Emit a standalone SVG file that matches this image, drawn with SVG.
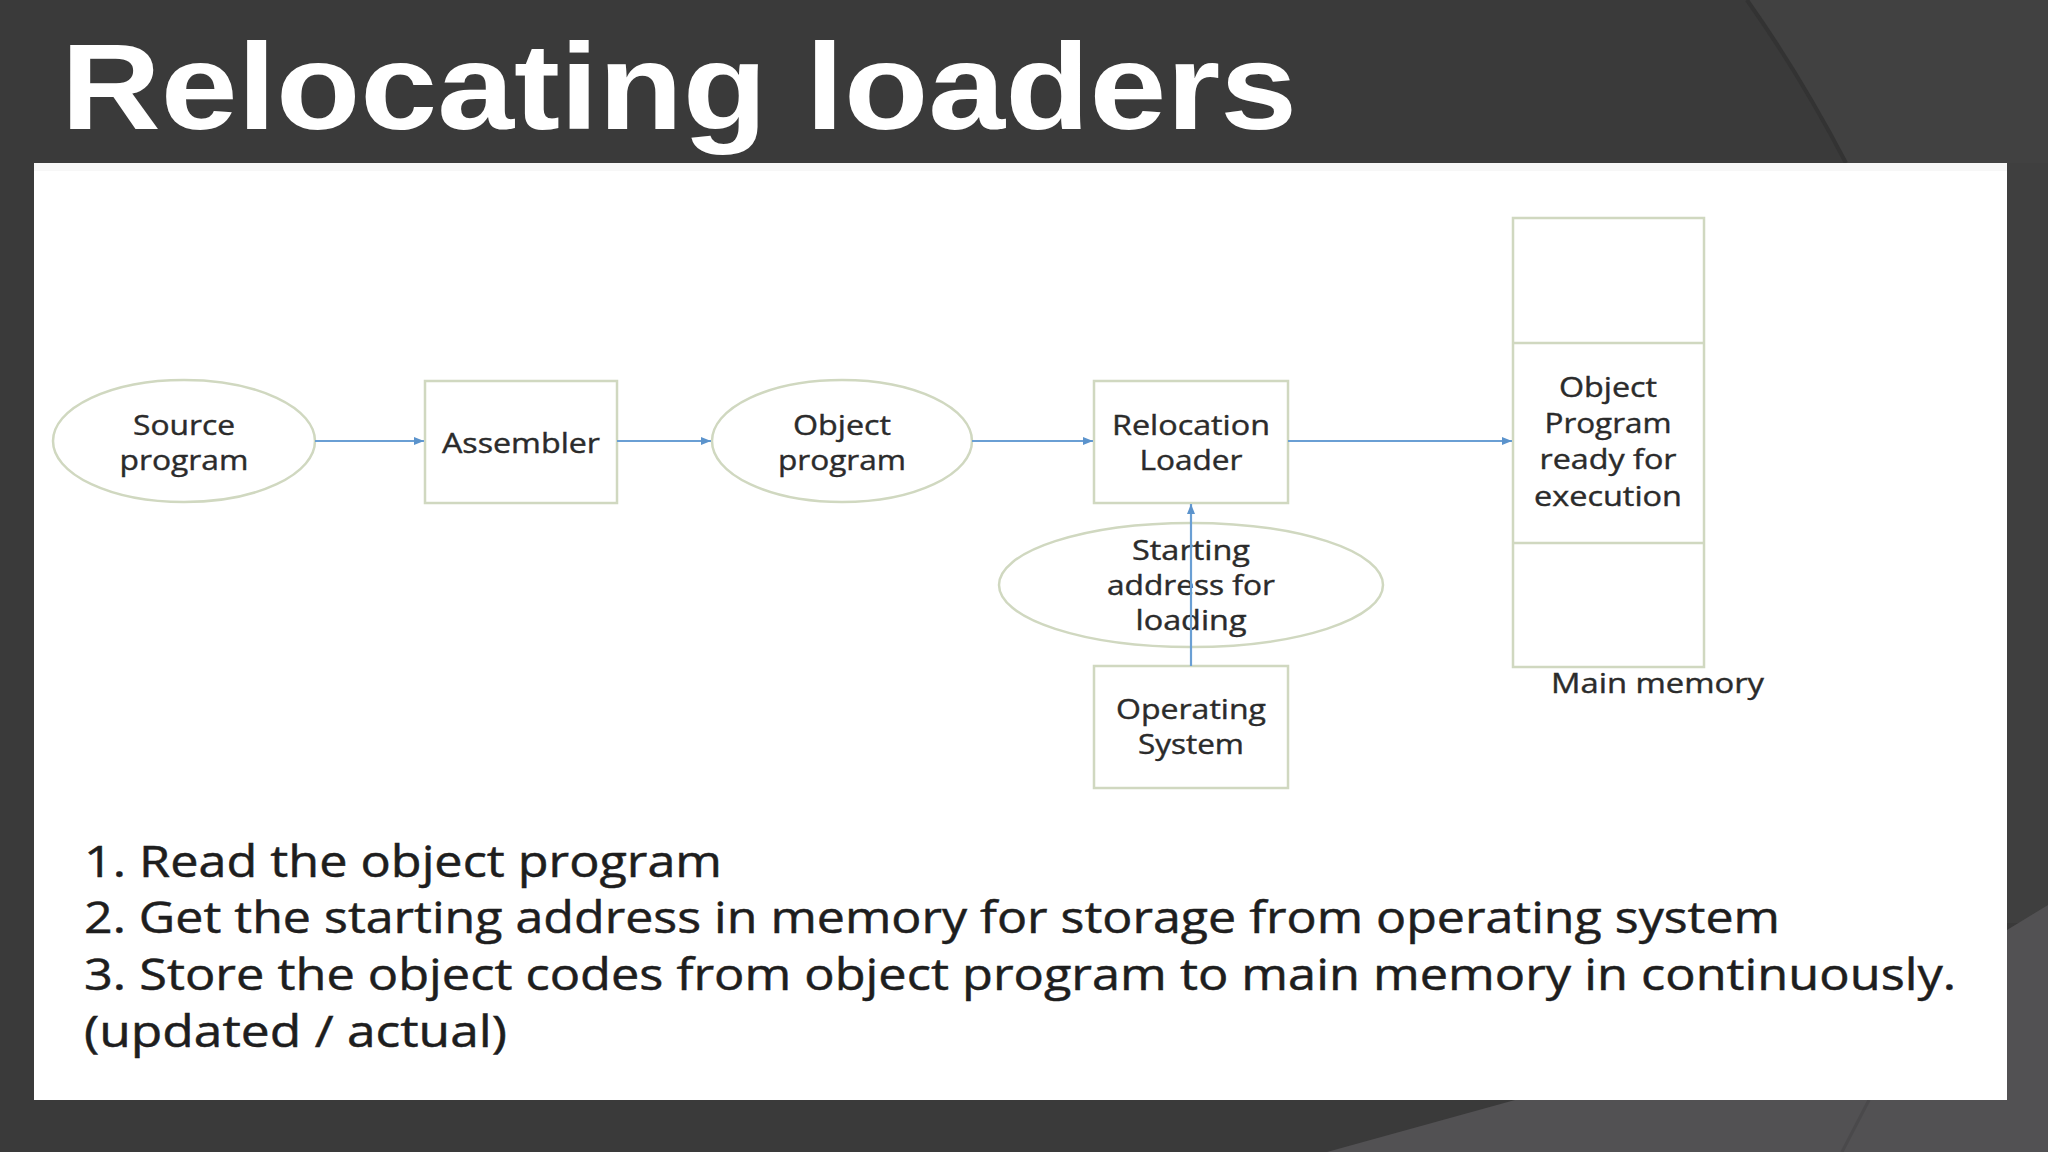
<svg xmlns="http://www.w3.org/2000/svg" width="2048" height="1152" viewBox="0 0 2048 1152">
  <style>
    .node { fill: #ffffff; stroke: #d0d8c0; stroke-width: 2.5; }
    .lbl { font-family: "Open Sans", "Liberation Sans", sans-serif; font-size: 27px; fill: #2b2b2b; stroke: #2b2b2b; stroke-width: 0.4; text-anchor: middle; }
    .conn { fill: none; stroke: #6a9fd4; stroke-width: 2.2; }
    .body { font-family: "Open Sans", "Liberation Sans", sans-serif; font-size: 44px; fill: #1e1e1e; stroke: #1e1e1e; stroke-width: 0.5; }
  </style>
  <defs>
    <marker id="arr" markerUnits="userSpaceOnUse" markerWidth="12" markerHeight="10" refX="10" refY="5" orient="auto">
      <path d="M0,1 L10,5 L0,9 Z" fill="#5b93cc"/>
    </marker>
  </defs>

  <g id="background">
    <rect x="0" y="0" width="2048" height="1152" fill="#3a3a3a"/>
    <path d="M1747,0 Q1800,75 1846,163 L2048,163 L2048,0 Z" fill="#414141"/>
    <path d="M1747,0 Q1800,75 1846,163" fill="none" stroke="#333333" stroke-width="4"/>
    <rect x="2007" y="163" width="41" height="760" fill="#3f3f3f"/>
    <path d="M1515,1100 L1327,1152 L2048,1152 L2048,905 L2007,930 L2007,1100 Z" fill="#525153"/>
    <path d="M1869,1100 L1842,1152" fill="none" stroke="#4a494b" stroke-width="3"/>
    <rect x="34" y="163" width="1973" height="937" fill="#ffffff"/>
    <rect x="34" y="163" width="1973" height="8" fill="#f7f7f7"/>
  </g>

  <g id="title">
    <text x="61" y="129" font-family="Liberation Sans, Arial, sans-serif" font-weight="bold" font-size="123" fill="#ffffff" textLength="1236" lengthAdjust="spacingAndGlyphs">Relocating loaders</text>
  </g>

  <g id="source-program">
    <ellipse class="node" cx="184" cy="441" rx="131" ry="61"/>
    <text class="lbl" x="184" y="435" textLength="102" lengthAdjust="spacingAndGlyphs">Source</text>
    <text class="lbl" x="184" y="470" textLength="129" lengthAdjust="spacingAndGlyphs">program</text>
  </g>

  <g id="assembler">
    <rect class="node" x="425" y="381" width="192" height="122"/>
    <text class="lbl" x="521" y="453" textLength="158" lengthAdjust="spacingAndGlyphs">Assembler</text>
  </g>

  <g id="object-program">
    <ellipse class="node" cx="842" cy="441" rx="130" ry="61"/>
    <text class="lbl" x="842" y="435" textLength="98" lengthAdjust="spacingAndGlyphs">Object</text>
    <text class="lbl" x="842" y="470" textLength="128" lengthAdjust="spacingAndGlyphs">program</text>
  </g>

  <g id="relocation-loader">
    <rect class="node" x="1094" y="381" width="194" height="122"/>
    <text class="lbl" x="1191" y="435" textLength="158" lengthAdjust="spacingAndGlyphs">Relocation</text>
    <text class="lbl" x="1191" y="470" textLength="103" lengthAdjust="spacingAndGlyphs">Loader</text>
  </g>

  <g id="starting-address">
    <ellipse class="node" cx="1191" cy="585" rx="192" ry="62"/>
    <text class="lbl" x="1191" y="560" textLength="118" lengthAdjust="spacingAndGlyphs">Starting</text>
    <text class="lbl" x="1191" y="595" textLength="168" lengthAdjust="spacingAndGlyphs">address for</text>
    <text class="lbl" x="1191" y="630" textLength="111" lengthAdjust="spacingAndGlyphs">loading</text>
  </g>

  <g id="operating-system">
    <rect class="node" x="1094" y="666" width="194" height="122"/>
    <text class="lbl" x="1191" y="719" textLength="150" lengthAdjust="spacingAndGlyphs">Operating</text>
    <text class="lbl" x="1191" y="754" textLength="106" lengthAdjust="spacingAndGlyphs">System</text>
  </g>

  <g id="main-memory">
    <rect class="node" x="1513" y="218" width="191" height="449"/>
    <line x1="1513" y1="343" x2="1704" y2="343" stroke="#d0d8c0" stroke-width="2.5"/>
    <line x1="1513" y1="543" x2="1704" y2="543" stroke="#d0d8c0" stroke-width="2.5"/>
    <text class="lbl" x="1608" y="397" textLength="98" lengthAdjust="spacingAndGlyphs">Object</text>
    <text class="lbl" x="1608" y="433" textLength="127" lengthAdjust="spacingAndGlyphs">Program</text>
    <text class="lbl" x="1608" y="469" textLength="137" lengthAdjust="spacingAndGlyphs">ready for</text>
    <text class="lbl" x="1608" y="506" textLength="148" lengthAdjust="spacingAndGlyphs">execution</text>
    <text class="lbl" x="1551" y="693" style="text-anchor:start" textLength="213" lengthAdjust="spacingAndGlyphs">Main memory</text>
  </g>

  <g id="connectors">
    <path class="conn" d="M315,441 H424" marker-end="url(#arr)"/>
    <path class="conn" d="M617,441 H711" marker-end="url(#arr)"/>
    <path class="conn" d="M972,441 H1093" marker-end="url(#arr)"/>
    <path class="conn" d="M1288,441 H1512" marker-end="url(#arr)"/>
    <path class="conn" d="M1191,666 V504" marker-end="url(#arr)"/>
  </g>

  <g id="steps">
    <text class="body" x="84" y="877" textLength="638" lengthAdjust="spacingAndGlyphs">1. Read the object program</text>
    <text class="body" x="84" y="933" textLength="1696" lengthAdjust="spacingAndGlyphs">2. Get the starting address in memory for storage from operating system</text>
    <text class="body" x="84" y="990" textLength="1872" lengthAdjust="spacingAndGlyphs">3. Store the object codes from object program to main memory in continuously.</text>
    <text class="body" x="84" y="1047" textLength="423" lengthAdjust="spacingAndGlyphs">(updated / actual)</text>
  </g>
</svg>
